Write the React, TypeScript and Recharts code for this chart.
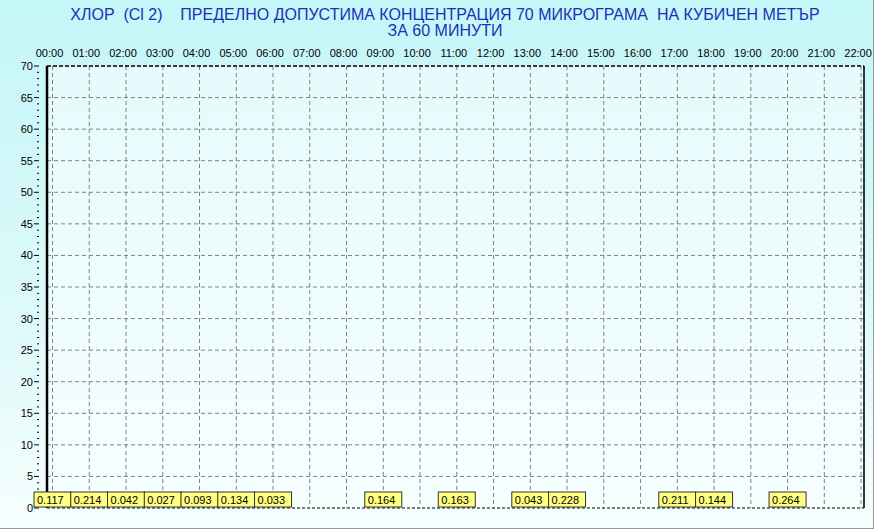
import {
  ComposedChart,
  Line,
  XAxis,
  YAxis,
  CartesianGrid,
  ReferenceLine,
  LabelList,
} from "recharts";

const hourLabels = [
  "00:00", "01:00", "02:00", "03:00", "04:00", "05:00", "06:00", "07:00",
  "08:00", "09:00", "10:00", "11:00", "12:00", "13:00", "14:00", "15:00",
  "16:00", "17:00", "18:00", "19:00", "20:00", "21:00", "22:00",
];
const hourTicks = hourLabels.map((_, i) => i);

const measuredHours = [0, 1, 2, 3, 4, 5, 6, 9, 11, 13, 14, 17, 18, 20];
const measuredValues = [
  0.117, 0.214, 0.042, 0.027, 0.093, 0.134, 0.033, 0.164, 0.163, 0.043, 0.228,
  0.211, 0.144, 0.264,
];

const yTicks = Array.from({ length: 71 }, (_, i) => i);
const yGrid = [5, 10, 15, 20, 25, 30, 35, 40, 45, 50, 55, 60, 65];

const titleLine1 =
  "ХЛОР  (Cl 2)    ПРЕДЕЛНО ДОПУСТИМА КОНЦЕНТРАЦИЯ 70 МИКРОГРАМА  НА КУБИЧЕН МЕТЪР";
const titleLine2 = "ЗА 60 МИНУТИ";

const FONT = "'Liberation Sans', Arial, sans-serif";

function HourTick(props: any) {
  const { x, payload } = props;
  return (
    <text x={x - 3} y={57} textAnchor="middle" fontSize={11} fontFamily={FONT} fill="#000">
      {hourLabels[payload.value]}
    </text>
  );
}

function ValueTick(props: any) {
  const { x, y, payload } = props;
  const major = payload.value % 5 === 0;
  return (
    <g>
      <line x1={major ? x - 5 : x - 2} x2={x} y1={y} y2={y} stroke="#000" strokeWidth={1} />
      {major && (
        <text x={x - 6} y={y + 4} textAnchor="end" fontSize={11} fontFamily={FONT} fill="#000">
          {payload.value}
        </text>
      )}
    </g>
  );
}

function ValueBox(props: any) {
  const { x, value } = props;
  if (x == null) return null;
  const w = 37;
  return (
    <g>
      <rect x={x - w / 2} y={492} width={w} height={15} fill="#ffff80" stroke="#333" strokeWidth={1} />
      <text x={x - w / 2 + 3} y={503.5} fontSize={11} fontFamily={FONT} fill="#000">
        {value}
      </text>
    </g>
  );
}

export default function App() {
  const data = measuredHours.map((h, i) => ({ hour: h, value: measuredValues[i] }));

  return (
    <div
      style={{
        position: "absolute",
        left: 0,
        top: 0,
        width: 874,
        height: 529,
        background: "linear-gradient(to bottom, #c4f6f8 0%, #def9fa 60%, #f6fefe 100%)",
        fontFamily: FONT,
        overflow: "hidden",
      }}
    >
      <div
        style={{
          position: "absolute",
          left: 47,
          top: 66,
          width: 817,
          height: 442,
          background: "linear-gradient(to bottom, #e6fbfc 0%, #f6fefe 100%)",
        }}
      />
      <div
        style={{
          position: "absolute",
          left: 0,
          top: 7,
          width: 890,
          textAlign: "center",
          color: "#1f2fb4",
          fontSize: 16,
          lineHeight: "16px",
          whiteSpace: "pre",
        }}
      >
        <div>{titleLine1}</div>
        <div>{titleLine2}</div>
      </div>
      <div
        style={{
          position: "absolute",
          right: 0,
          top: 0,
          width: 1,
          height: 529,
          background: "#9a9a9a",
        }}
      />
      <div
        style={{
          position: "absolute",
          left: 0,
          bottom: 0,
          width: 874,
          height: 1,
          background: "#9a9a9a",
        }}
      />
      <div style={{ position: "absolute", left: 0, top: 0 }}>
        <ComposedChart
          width={874}
          height={529}
          data={data}
          margin={{ top: 46, right: 0, bottom: 0, left: 0 }}
        >
          <CartesianGrid
            horizontal={false}
            stroke="#808080"
            strokeDasharray="4 3"
            xAxisId="top"
            yAxisId="left"
          />
          <XAxis
            xAxisId="top"
            dataKey="hour"
            type="number"
            orientation="top"
            domain={[-0.15, 22.08]}
            ticks={hourTicks}
            height={20}
            tick={<HourTick />}
            tickLine={false}
            axisLine={{ stroke: "#000", strokeWidth: 1.5, strokeDasharray: "4 2" }}
            allowDataOverflow
          />
          <XAxis
            xAxisId="bottom"
            dataKey="hour"
            type="number"
            orientation="bottom"
            domain={[-0.15, 22.08]}
            height={21}
            tick={false}
            tickLine={false}
            axisLine={{ stroke: "#000", strokeWidth: 1, strokeDasharray: "3 2" }}
          />
          <YAxis
            yAxisId="left"
            type="number"
            domain={[0, 70]}
            ticks={yTicks}
            interval={0}
            width={47}
            tick={<ValueTick />}
            tickLine={false}
            axisLine={{ stroke: "#000", strokeWidth: 2.5 }}
          />
          <YAxis
            yAxisId="right"
            orientation="right"
            type="number"
            domain={[0, 70]}
            width={10}
            tick={false}
            tickLine={false}
            axisLine={{ stroke: "#000", strokeWidth: 1.5 }}
          />
          {yGrid.map((v) => (
            <ReferenceLine
              key={v}
              y={v}
              xAxisId="top"
              yAxisId="left"
              stroke="#808080"
              strokeDasharray="4 3"
            />
          ))}
          <Line
            xAxisId="top"
            yAxisId="left"
            dataKey="value"
            stroke="none"
            dot={false}
            activeDot={false}
            isAnimationActive={false}
          >
            <LabelList dataKey="value" content={<ValueBox />} />
          </Line>
        </ComposedChart>
      </div>
    </div>
  );
}
